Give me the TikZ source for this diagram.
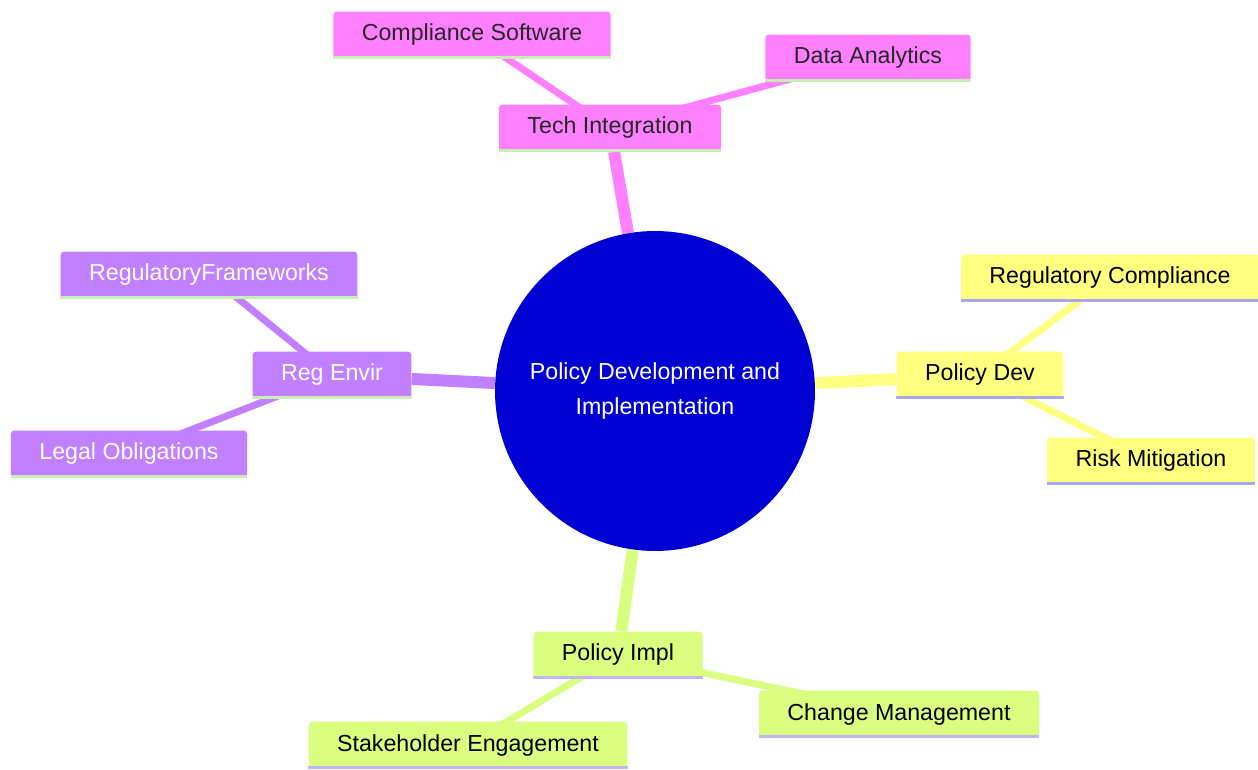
\documentclass[tikz,border=0pt]{standalone}
\usepackage{fontspec}
\setmainfont{Liberation Sans}
\usetikzlibrary{backgrounds,positioning}

\definecolor{rootblue}{RGB}{0,0,210}
\definecolor{techpink}{RGB}{255,128,255}
\definecolor{devyellow}{RGB}{255,255,128}
\definecolor{regpurple}{RGB}{192,128,255}
\definecolor{impllime}{RGB}{218,255,128}
\definecolor{greenline}{RGB}{200,240,180}
\definecolor{blueline}{RGB}{168,168,240}
\definecolor{lilacline}{RGB}{196,180,240}

\begin{document}
\begin{tikzpicture}[x=0.02cm,y=-0.02cm]
  \tikzstyle{every node}=[font=\fontsize{13.2}{19.8}\selectfont]
  \tikzstyle{leaf}=[rounded corners=2pt,minimum height=0.94cm,inner xsep=0.57cm,text=black!85]
  \tikzstyle{trunk}=[line width=0.24cm]
  \tikzstyle{twig}=[line width=0.14cm]
  \useasboundingbox (0,0) rectangle (1258,770);

  % centre
  \node[circle,fill=rootblue,minimum size=6.4cm,text=white,align=center] (root) at (655,391)
  {Policy Development and\\Implementation};

  % tech integration
  \node[leaf,fill=techpink] (tech) at (610,128) {Tech Integration};
  \node[leaf,fill=techpink] (soft) at (472,35) {Compliance Software};
  \node[leaf,fill=techpink] (data) at (868,58) {Data Analytics};

  % policy dev
  \node[leaf,fill=devyellow,text=black] (dev) at (980,375) {Policy Dev};
  \node[leaf,fill=devyellow,text=black] (comp) at (1110,278) {Regulatory Compliance};
  \node[leaf,fill=devyellow,text=black] (risk) at (1151,461) {Risk Mitigation};

  % reg envir
  \node[leaf,fill=regpurple,text=white] (env) at (332,375) {Reg Envir};
  \node[leaf,fill=regpurple,text=white] (frame) at (209,275) {RegulatoryFrameworks};
  \node[leaf,fill=regpurple,text=white] (legal) at (129,454) {Legal Obligations};

  % policy impl
  \node[leaf,fill=impllime,text=black] (impl) at (618,655) {Policy Impl};
  \node[leaf,fill=impllime,text=black] (stake) at (468,745) {Stakeholder Engagement};
  \node[leaf,fill=impllime,text=black] (change) at (899,714) {Change Management};

  \begin{pgfonlayer}{background}
    \draw[trunk,techpink] (root) -- (tech);
    \draw[trunk,devyellow] (root) -- (dev);
    \draw[trunk,regpurple] (root) -- (env);
    \draw[trunk,impllime] (root) -- (impl);
    \foreach \from/\to/\c in {tech/soft/techpink,tech/data/techpink,dev/comp/devyellow,dev/risk/devyellow,
      env/frame/regpurple,env/legal/regpurple,impl/stake/impllime,impl/change/impllime}{
      \draw[twig,\c] (\from.center) -- (\to.center);
    }
  \end{pgfonlayer}

  % bottom lines
  \foreach \n/\c in {tech/greenline,soft/greenline,data/greenline,dev/blueline,comp/blueline,risk/blueline,
    env/greenline,frame/greenline,legal/greenline,impl/lilacline,stake/lilacline,change/lilacline}{
    \draw[\c,line width=1.6pt] ([yshift=0.8pt]\n.south west) -- ([yshift=0.8pt]\n.south east);
  }
\end{tikzpicture}
\end{document}
